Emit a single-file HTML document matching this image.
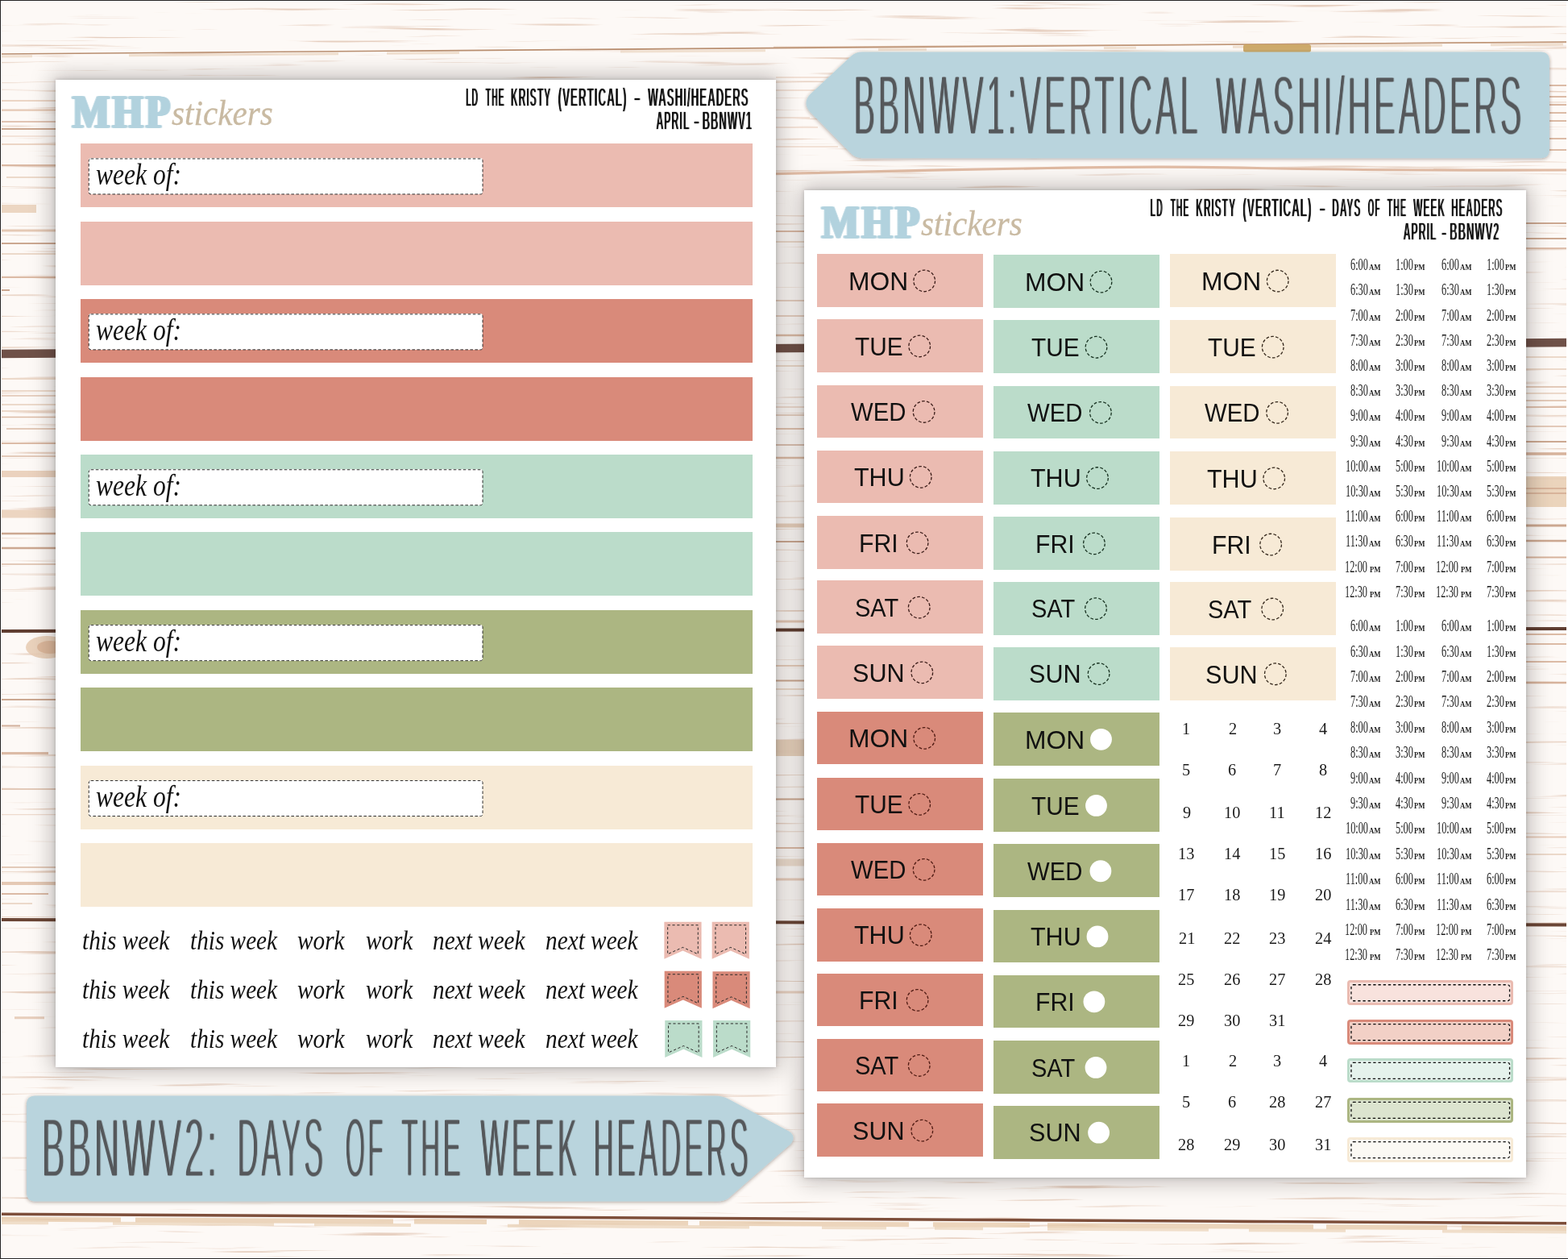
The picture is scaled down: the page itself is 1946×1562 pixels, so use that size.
<!DOCTYPE html>
<html lang="en"><head><meta charset="utf-8"><title>BBNWV1 / BBNWV2 planner sticker sheets</title>
<style>
*{box-sizing:border-box}
html,body{margin:0;padding:0}
body{width:1946px;height:1562px;position:relative;overflow:hidden;background:#fdf9f6;font-family:'Liberation Sans',sans-serif;color:#111}
div,span,svg{position:absolute}
.t{white-space:pre;line-height:1;transform-origin:0 0;display:block}
.sheet{background:#fff;box-shadow:0 0 5px rgba(0,0,0,.2),0 0 26px 4px rgba(10,8,8,.27)}
.day{font-size:31.25px}
.wk{font-family:'Liberation Serif',serif;font-style:italic}
.tm{font-family:'Liberation Serif',serif;font-size:20.5px;transform:scaleX(.6);color:#1a1a1a}
.ap{font-family:'Liberation Serif',serif;font-weight:700;font-size:10.4px;transform:scaleX(.84);color:#222}
.nm{font-family:'Liberation Serif',serif;font-size:21.4px;transform:scaleX(.95);color:#1a1a1a}
</style></head>
<body>
<svg id="wood" width="1946" height="1562" viewBox="0 0 1946 1562" fill="none"><defs><filter id="grain" x="0" y="0" width="100%" height="100%" color-interpolation-filters="sRGB"><feTurbulence type="fractalNoise" baseFrequency="0.005 0.2" numOctaves="3" seed="11" result="n"/><feColorMatrix in="n" type="matrix" values="0 0 0 0 0.80  0 0 0 0 0.62  0 0 0 0 0.50  0 0 0 6 -3.85"/></filter></defs><rect width="100%" height="100%" filter="url(#grain)" opacity=".45"/><path d="M0,67L1946,52" stroke="#b08260" stroke-width="1.6" opacity="0.9"/><path d="M0,70L1946,55" stroke="#e8cfb8" stroke-width="3" opacity=".6" stroke-dasharray="40 120 260 60 90 200 180 140 60 220"/><path d="M0,439L1946,425" stroke="#6f5148" stroke-width="10.5" opacity="1"/><path d="M0,783L1946,780" stroke="#5f3d30" stroke-width="4" opacity="1"/><path d="M0,1141L1946,1147.5" stroke="#6b4636" stroke-width="4" opacity="1"/><path d="M0,1506.3L1946,1517.8" stroke="#7d4e3a" stroke-width="3.4" opacity="1"/><path d="M0,1512.5L1946,1524" stroke="#e4c6a4" stroke-width="6" opacity=".7" stroke-dasharray="150 18 320 26 90 40 210 14 260 30 120 22 330 16"/><path d="M0,1517L1946,1528.5" stroke="#ead3b8" stroke-width="4" opacity=".7" stroke-dasharray="60 80 200 50 120 120 300 90 80 60"/><path d="M960,215.6C1100,213 1180,210 1300,208.5S1460,206.5 1560,208.5S1800,211.5 1946,211" stroke="#dcb297" stroke-width="3.2" opacity=".85"/><path d="M960,58.5L1946,52.5" stroke="#c9a284" stroke-width="1.5" opacity="0.6"/><path d="M0,125L70,125" stroke="#e2c3ae" stroke-width="1.5" opacity="0.9"/><path d="M0,136.7L70,136.7" stroke="#e2c3ae" stroke-width="2.2" opacity="0.9"/><path d="M0,151L70,151" stroke="#d3ab92" stroke-width="1.5" opacity="0.9"/><path d="M0,160L70,160" stroke="#c79e86" stroke-width="2" opacity="0.9"/><path d="M0,169L70,169" stroke="#e2c3ae" stroke-width="1.2" opacity="0.8"/><path d="M0,179L70,179" stroke="#e2c3ae" stroke-width="1.5" opacity="0.9"/><path d="M0,205L70,205" stroke="#d3ab92" stroke-width="2" opacity="0.8"/><path d="M8,220L70,220" stroke="#e2c3ae" stroke-width="1.5" opacity="0.8"/><path d="M0,259L45,259" stroke="#ead2bd" stroke-width="10" opacity="0.9"/><path d="M0,286L70,286" stroke="#e2c3ae" stroke-width="3" opacity="0.9"/><path d="M0,302L70,302" stroke="#c79e86" stroke-width="2" opacity="0.9"/><path d="M0,315L70,315" stroke="#e2c3ae" stroke-width="1.5" opacity="0.8"/><path d="M0,344L70,344" stroke="#d3ab92" stroke-width="2" opacity="0.8"/><path d="M0,360L12,360" stroke="#c79e86" stroke-width="2" opacity="0.9"/><path d="M0,470L70,470" stroke="#e2c3ae" stroke-width="1.5" opacity="0.8"/><path d="M0,485L70,485" stroke="#e2c3ae" stroke-width="1.5" opacity="0.8"/><path d="M0,491L70,491" stroke="#d3ab92" stroke-width="1.5" opacity="0.7"/><path d="M0,502L70,502" stroke="#e2c3ae" stroke-width="1.5" opacity="0.8"/><path d="M0,510L70,510" stroke="#e2c3ae" stroke-width="1.5" opacity="0.8"/><path d="M0,517.5L70,517.5" stroke="#d3ab92" stroke-width="1.5" opacity="0.8"/><path d="M8,532L70,532" stroke="#d3ab92" stroke-width="1.5" opacity="0.8"/><path d="M0,550L70,550" stroke="#d3ab92" stroke-width="2" opacity="0.8"/><path d="M0,566L70,566" stroke="#d3ab92" stroke-width="1.5" opacity="0.8"/><path d="M0,588L70,588" stroke="#e9cdb8" stroke-width="8" opacity="0.9"/><path d="M0,637.5L70,637.5" stroke="#ead0bb" stroke-width="10" opacity="0.9"/><path d="M0,662L70,662" stroke="#c79e86" stroke-width="2.5" opacity="0.9"/><path d="M0,680L70,680" stroke="#c79e86" stroke-width="2.5" opacity="0.9"/><path d="M0,700L70,700" stroke="#d3ab92" stroke-width="1.5" opacity="0.8"/><path d="M0,868L70,868" stroke="#c79e86" stroke-width="2" opacity="0.9"/><path d="M0,900.5L25,900.5" stroke="#c79e86" stroke-width="2" opacity="0.8"/><path d="M0,934.6L60,934.6" stroke="#d3ab92" stroke-width="3" opacity="0.8"/><path d="M0,979L70,979" stroke="#d3ab92" stroke-width="1.5" opacity="0.8"/><path d="M0,1010.7L70,1010.7" stroke="#e2c3ae" stroke-width="1" opacity="0.7"/><path d="M0,1076L70,1076" stroke="#d3ab92" stroke-width="1.5" opacity="0.8"/><path d="M0,1096L70,1096" stroke="#e2c3ae" stroke-width="4" opacity="0.9"/><path d="M0,1109L60,1109" stroke="#d3ab92" stroke-width="2" opacity="0.8"/><path d="M0,1121L40,1121" stroke="#e2c3ae" stroke-width="1.5" opacity="0.8"/><path d="M18,1262.7L55,1262.7" stroke="#e2c3ae" stroke-width="3" opacity="0.8"/><path d="M960,287L1000,287" stroke="#d3ab92" stroke-width="2" opacity="0.8"/><path d="M960,300L1000,300" stroke="#e2c3ae" stroke-width="1.5" opacity="0.8"/><path d="M960,373L1000,373" stroke="#d3ab92" stroke-width="1.5" opacity="0.7"/><path d="M960,392L1000,392" stroke="#d3ab92" stroke-width="1.5" opacity="0.7"/><path d="M960,416L1000,416" stroke="#d3ab92" stroke-width="2.5" opacity="0.8"/><path d="M960,454L1000,454" stroke="#e2c3ae" stroke-width="1.5" opacity="0.8"/><path d="M960,505L1000,505" stroke="#e2c3ae" stroke-width="1.5" opacity="0.7"/><path d="M960,515L1000,515" stroke="#d3ab92" stroke-width="1.5" opacity="0.7"/><path d="M960,532L1000,532" stroke="#d3ab92" stroke-width="2" opacity="0.7"/><path d="M960,552L1000,552" stroke="#c79e86" stroke-width="1.5" opacity="0.8"/><path d="M960,568L1000,568" stroke="#d3ab92" stroke-width="2.5" opacity="0.8"/><path d="M960,652L1000,652" stroke="#e6cbb6" stroke-width="5" opacity="0.9"/><path d="M960,672L1000,672" stroke="#c79e86" stroke-width="2" opacity="0.9"/><path d="M960,771L1000,771" stroke="#e2c3ae" stroke-width="3" opacity="0.9"/><path d="M960,826L1000,826" stroke="#e2c3ae" stroke-width="2" opacity="0.8"/><path d="M960,844.6L1000,844.6" stroke="#c79e86" stroke-width="2" opacity="0.9"/><path d="M960,855L1000,855" stroke="#e2c3ae" stroke-width="1.5" opacity="0.8"/><path d="M960,928L1000,928" stroke="#e5cdb6" stroke-width="20" opacity="0.9"/><path d="M960,991.6L1000,991.6" stroke="#c79e86" stroke-width="2" opacity="0.9"/><path d="M960,1052L1000,1052" stroke="#d3ab92" stroke-width="2" opacity="0.8"/><path d="M960,1070L1000,1070" stroke="#ecdacb" stroke-width="9" opacity="0.9"/><path d="M960,1091L1000,1091" stroke="#e2c3ae" stroke-width="3" opacity="0.8"/><path d="M960,1231L1000,1231" stroke="#e2c3ae" stroke-width="3" opacity="0.7"/><path d="M1890,277L1946,277" stroke="#c79e86" stroke-width="2" opacity="0.9"/><path d="M1890,296L1946,296" stroke="#c79e86" stroke-width="2" opacity="0.9"/><path d="M1890,308L1946,308" stroke="#d3ab92" stroke-width="1.5" opacity="0.9"/><path d="M1890,443L1946,443" stroke="#e2c3ae" stroke-width="1.5" opacity="0.8"/><path d="M1890,458L1946,458" stroke="#e2c3ae" stroke-width="1.5" opacity="0.8"/><path d="M1890,480L1946,480" stroke="#d3ab92" stroke-width="1.5" opacity="0.8"/><path d="M1890,488L1946,488" stroke="#e2c3ae" stroke-width="1.5" opacity="0.8"/><path d="M1890,497L1946,497" stroke="#d3ab92" stroke-width="1.5" opacity="0.8"/><path d="M1890,505L1946,505" stroke="#d3ab92" stroke-width="1.5" opacity="0.8"/><path d="M1890,529L1946,529" stroke="#d3ab92" stroke-width="1.5" opacity="0.8"/><path d="M1890,548L1946,548" stroke="#c79e86" stroke-width="2" opacity="0.9"/><path d="M1890,563L1946,563" stroke="#d3ab92" stroke-width="3.5" opacity="0.9"/><path d="M1890,594L1946,594" stroke="#d3ab92" stroke-width="2" opacity="0.9"/><path d="M1890,610L1946,610" stroke="#ead2b8" stroke-width="38" opacity="0.95"/><path d="M1890,606L1946,606" stroke="#d3ab92" stroke-width="2" opacity="0.8"/><path d="M1890,612L1946,612" stroke="#d3ab92" stroke-width="2" opacity="0.8"/><path d="M1890,652L1946,652" stroke="#c79e86" stroke-width="3" opacity="0.9"/><path d="M1890,671L1946,671" stroke="#c79e86" stroke-width="2.5" opacity="0.9"/><path d="M1890,691.5L1946,691.5" stroke="#d3ab92" stroke-width="2" opacity="0.9"/><path d="M1890,787L1946,787" stroke="#d3ab92" stroke-width="2" opacity="0.8"/><path d="M1890,799L1946,799" stroke="#d3ab92" stroke-width="2" opacity="0.8"/><path d="M1890,821L1946,821" stroke="#d3ab92" stroke-width="2" opacity="0.8"/><path d="M1890,847L1946,847" stroke="#d3ab92" stroke-width="2.5" opacity="0.9"/><path d="M1890,1038.5L1946,1038.5" stroke="#e2c3ae" stroke-width="2" opacity="0.8"/><path d="M1890,1060L1946,1060" stroke="#e2c3ae" stroke-width="1.5" opacity="0.8"/><path d="M963,96L1040,96" stroke="#e2c3ae" stroke-width="1.5" opacity="0.6"/><path d="M963,112L1020,112" stroke="#e2c3ae" stroke-width="1.5" opacity="0.6"/><path d="M963,146L1005,146" stroke="#e2c3ae" stroke-width="1.5" opacity="0.6"/><path d="M963,158L1015,158" stroke="#e2c3ae" stroke-width="1.5" opacity="0.6"/><path d="M963,182L1040,182" stroke="#e2c3ae" stroke-width="1.5" opacity="0.6"/><path d="M1923,106L1946,106" stroke="#d3ab92" stroke-width="2" opacity="0.8"/><path d="M1923,120L1946,120" stroke="#d3ab92" stroke-width="2" opacity="0.8"/><path d="M1923,130L1946,130" stroke="#d3ab92" stroke-width="2" opacity="0.8"/><path d="M1923,140L1946,140" stroke="#d3ab92" stroke-width="2" opacity="0.8"/><path d="M1923,150L1946,150" stroke="#d3ab92" stroke-width="2" opacity="0.8"/><path d="M1923,172L1946,172" stroke="#d3ab92" stroke-width="2" opacity="0.8"/><path d="M1923,186L1946,186" stroke="#d3ab92" stroke-width="2" opacity="0.8"/><ellipse cx="58" cy="803" rx="26" ry="14" fill="#e8cdb6" opacity=".9"/><ellipse cx="62" cy="803" rx="16" ry="8" fill="#d9b294" opacity=".8"/><rect x="1543" y="55" width="84" height="10" rx="3" fill="#c9a35e" opacity=".9"/></svg><svg id="label1" width="1946" height="240" viewBox="0 0 1946 240" style="left:0;top:0"><defs><filter id="tf0" x="-3%" y="-20%" width="106%" height="140%" color-interpolation-filters="sRGB"><feOffset in="SourceGraphic" dy="1" result="e0a"/><feOffset in="SourceGraphic" dy="-1" result="e0b"/><feComposite in="e0a" in2="e0b" operator="in" result="e0"/><feOffset in="SourceGraphic" dy="2" result="e1a"/><feOffset in="SourceGraphic" dy="-2" result="e1b"/><feComposite in="e1a" in2="e1b" operator="in" result="e1"/><feComposite in="e0" in2="e1" operator="arithmetic" k1="0" k2="0.3" k3="0.7" k4="0" result="E"/><feOffset in="E" dx="1" result="o1"/><feMerge result="d0"><feMergeNode in="E"/><feMergeNode in="o1"/></feMerge><feOffset in="E" dx="2" result="o2"/><feMerge result="d1"><feMergeNode in="d0"/><feMergeNode in="o2"/></feMerge><feComposite in="d0" in2="d1" operator="arithmetic" k1="0" k2="0.8" k3="0.2" k4="0"/></filter><filter id="tf1" x="-3%" y="-20%" width="106%" height="140%" color-interpolation-filters="sRGB"><feOffset in="SourceGraphic" dx="0" dy="0" result="e0"/><feOffset in="SourceGraphic" dy="1" result="e1a"/><feOffset in="SourceGraphic" dy="-1" result="e1b"/><feComposite in="e1a" in2="e1b" operator="in" result="e1"/><feComposite in="e0" in2="e1" operator="arithmetic" k1="0" k2="0.1" k3="0.9" k4="0" result="E"/><feMerge result="d0"><feMergeNode in="E"/></feMerge><feOffset in="E" dx="1" result="o1"/><feMerge result="d1"><feMergeNode in="d0"/><feMergeNode in="o1"/></feMerge><feComposite in="d0" in2="d1" operator="arithmetic" k1="0" k2="0.2" k3="0.8" k4="0"/></filter><filter id="ls" x="-5%" y="-20%" width="110%" height="140%"><feDropShadow dx="0" dy="1" stdDeviation="2" flood-color="#3a2a20" flood-opacity=".45"/></filter></defs><path d="M1070,64.4H1912Q1923,64.4 1923,75.4V185.2Q1923,196.2 1912,196.2H1070Q1062,196.2 1056.5,190.8L1004.5,138Q1000,132 1000.6,127Q1001,122 1005,117.5L1056.5,69.5Q1062,64.4 1070,64.4Z" fill="#b9d4dd" filter="url(#ls)"/><g filter="url(#tf0)" font-family="Liberation Sans,sans-serif" font-weight="400" font-size="104.8" fill="#55585b"><text transform="translate(1058.95,167) scale(0.3777,1)" letter-spacing="10.589">BBNWV1:VERTICAL</text><text transform="translate(1508.53,167) scale(0.3785,1)" letter-spacing="10.568">WASHI/HEADERS</text></g></svg><div class="sheet" id="sheet1" style="left:68.75px;top:98.75px;width:894.5px;height:1224.75px;"><span class="t" style="left:21.01px;top:11px;font-family:'Liberation Serif',serif;font-size:57.6px;font-weight:700;transform:scaleX(0.8487);color:#b2d2de;letter-spacing:4px;-webkit-text-stroke:1px #b2d2de;filter:drop-shadow(2px 0 0 #b2d2de) drop-shadow(-2px 0 0 #b2d2de);">MHP</span><span class="t" style="left:143.75px;top:19.7px;font-family:'Liberation Serif',serif;font-size:45px;font-style:italic;transform:scaleX(0.9148);color:#c9baa2;-webkit-text-stroke:.3px #c9baa2;">stickers</span><svg class="hd" width="894.5" height="80" viewBox="0 0 894.5 80" style="left:0;top:0"><g filter="url(#tf1)" font-family="Liberation Sans,sans-serif" font-weight="700" font-size="33.72" fill="#0a0a0a"><text transform="translate(508.64,32.75) scale(0.3149,1)" letter-spacing="3.175">LD</text><text transform="translate(533.23,32.75) scale(0.3118,1)" letter-spacing="3.207">THE</text><text transform="translate(564.44,32.75) scale(0.3599,1)" letter-spacing="2.778">KRISTY</text><text transform="translate(623.18,32.75) scale(0.3969,1)" letter-spacing="2.52">(VERTICAL)</text><text transform="translate(717.37,32.75) scale(0.7475,1)">-</text><text transform="translate(734.84,32.75) scale(0.3947,1)" letter-spacing="2.534">WASHI/HEADERS</text></g><g filter="url(#tf1)" font-family="Liberation Sans,sans-serif" font-weight="700" font-size="32.56" fill="#0a0a0a"><text transform="translate(744.94,62.45) scale(0.3797,1)" letter-spacing="2.634">APRIL</text><text transform="translate(791.62,62.45) scale(0.6532,1)">-</text><text transform="translate(802.18,62.45) scale(0.4,1)" letter-spacing="2.5">BBNWV1</text></g></svg><div class="stripe" style="left:30.75px;top:79.45px;width:834.5px;height:79px;background:#ebbbb1;"></div><div class="wo" style="left:40.75px;top:97.45px;width:489.8px;height:45px;background:#fff;border-radius:3px;"></div><span class="t wk" style="left:50.09px;top:99.55px;transform:scaleX(0.8418);font-size:37.5px;">week of:</span><div class="stripe" style="left:30.75px;top:175.9px;width:834.5px;height:79px;background:#ebbbb1;"></div><div class="stripe" style="left:30.75px;top:272.35px;width:834.5px;height:79px;background:#d98a7a;"></div><div class="wo" style="left:40.75px;top:290.35px;width:489.8px;height:45px;background:#fff;border-radius:3px;"></div><span class="t wk" style="left:50.09px;top:292.45px;transform:scaleX(0.8418);font-size:37.5px;">week of:</span><div class="stripe" style="left:30.75px;top:368.8px;width:834.5px;height:79px;background:#d98a7a;"></div><div class="stripe" style="left:30.75px;top:465.25px;width:834.5px;height:79px;background:#bbdcca;"></div><div class="wo" style="left:40.75px;top:483.25px;width:489.8px;height:45px;background:#fff;border-radius:3px;"></div><span class="t wk" style="left:50.09px;top:485.35px;transform:scaleX(0.8418);font-size:37.5px;">week of:</span><div class="stripe" style="left:30.75px;top:561.7px;width:834.5px;height:79px;background:#bbdcca;"></div><div class="stripe" style="left:30.75px;top:658.15px;width:834.5px;height:79px;background:#acb682;"></div><div class="wo" style="left:40.75px;top:676.15px;width:489.8px;height:45px;background:#fff;border-radius:3px;"></div><span class="t wk" style="left:50.09px;top:678.25px;transform:scaleX(0.8418);font-size:37.5px;">week of:</span><div class="stripe" style="left:30.75px;top:754.6px;width:834.5px;height:79px;background:#acb682;"></div><div class="stripe" style="left:30.75px;top:851.05px;width:834.5px;height:79px;background:#f7ead6;"></div><div class="wo" style="left:40.75px;top:869.05px;width:489.8px;height:45px;background:#fff;border-radius:3px;"></div><span class="t wk" style="left:50.09px;top:871.15px;transform:scaleX(0.8418);font-size:37.5px;">week of:</span><div class="stripe" style="left:30.75px;top:947.5px;width:834.5px;height:79px;background:#f7ead6;"></div><span class="t wk" style="left:33.71px;top:1052.25px;transform:scaleX(0.8891);font-size:33px;">this week</span><span class="t wk" style="left:166.96px;top:1052.25px;transform:scaleX(0.887);font-size:33px;">this week</span><span class="t wk" style="left:300.55px;top:1052.25px;transform:scaleX(0.8867);font-size:33px;">work</span><span class="t wk" style="left:385.05px;top:1052.25px;transform:scaleX(0.8829);font-size:33px;">work</span><span class="t wk" style="left:468.71px;top:1052.25px;transform:scaleX(0.8874);font-size:33px;">next week</span><span class="t wk" style="left:608.71px;top:1052.25px;transform:scaleX(0.8874);font-size:33px;">next week</span><span class="t wk" style="left:33.71px;top:1113px;transform:scaleX(0.8891);font-size:33px;">this week</span><span class="t wk" style="left:166.96px;top:1113px;transform:scaleX(0.887);font-size:33px;">this week</span><span class="t wk" style="left:300.55px;top:1113px;transform:scaleX(0.8867);font-size:33px;">work</span><span class="t wk" style="left:385.05px;top:1113px;transform:scaleX(0.8829);font-size:33px;">work</span><span class="t wk" style="left:468.71px;top:1113px;transform:scaleX(0.8874);font-size:33px;">next week</span><span class="t wk" style="left:608.71px;top:1113px;transform:scaleX(0.8874);font-size:33px;">next week</span><span class="t wk" style="left:33.71px;top:1174.25px;transform:scaleX(0.8891);font-size:33px;">this week</span><span class="t wk" style="left:166.96px;top:1174.25px;transform:scaleX(0.887);font-size:33px;">this week</span><span class="t wk" style="left:300.55px;top:1174.25px;transform:scaleX(0.8867);font-size:33px;">work</span><span class="t wk" style="left:385.05px;top:1174.25px;transform:scaleX(0.8829);font-size:33px;">work</span><span class="t wk" style="left:468.71px;top:1174.25px;transform:scaleX(0.8874);font-size:33px;">next week</span><span class="t wk" style="left:608.71px;top:1174.25px;transform:scaleX(0.8874);font-size:33px;">next week</span><svg width="894.5" height="1224.75" viewBox="0 0 894.5 1224.75" style="left:0;top:0"><rect x="41.25" y="97.95" width="488.8" height="44" rx="2.5" fill="none" stroke="#2e2e2e" stroke-width="1" stroke-dasharray="3.6 2.4"/><rect x="41.25" y="290.85" width="488.8" height="44" rx="2.5" fill="none" stroke="#2e2e2e" stroke-width="1" stroke-dasharray="3.6 2.4"/><rect x="41.25" y="483.75" width="488.8" height="44" rx="2.5" fill="none" stroke="#2e2e2e" stroke-width="1" stroke-dasharray="3.6 2.4"/><rect x="41.25" y="676.65" width="488.8" height="44" rx="2.5" fill="none" stroke="#2e2e2e" stroke-width="1" stroke-dasharray="3.6 2.4"/><rect x="41.25" y="869.55" width="488.8" height="44" rx="2.5" fill="none" stroke="#2e2e2e" stroke-width="1" stroke-dasharray="3.6 2.4"/><path d="M755.35,1044.75h46.2v46l-23.1,-10.3l-23.1,10.3z" fill="#ebbbb1"/><path d="M759.65,1048.75h37.6v36l-18.8,-8.4l-18.8,8.4z" fill="none" stroke="#2a2a2a" stroke-width="1" stroke-dasharray="3.2 2.6"/><path d="M814.65,1044.75h46.2v46l-23.1,-10.3l-23.1,10.3z" fill="#ebbbb1"/><path d="M818.95,1048.75h37.6v36l-18.8,-8.4l-18.8,8.4z" fill="none" stroke="#2a2a2a" stroke-width="1" stroke-dasharray="3.2 2.6"/><path d="M755.65,1105.75h46.2v46l-23.1,-10.3l-23.1,10.3z" fill="#d98a7a"/><path d="M759.95,1109.75h37.6v36l-18.8,-8.4l-18.8,8.4z" fill="none" stroke="#2a2a2a" stroke-width="1" stroke-dasharray="3.2 2.6"/><path d="M815.45,1106.25h46.2v46l-23.1,-10.3l-23.1,10.3z" fill="#d98a7a"/><path d="M819.75,1110.25h37.6v36l-18.8,-8.4l-18.8,8.4z" fill="none" stroke="#2a2a2a" stroke-width="1" stroke-dasharray="3.2 2.6"/><path d="M756.25,1166.95h46.2v46l-23.1,-10.3l-23.1,10.3z" fill="#bbdcca"/><path d="M760.55,1170.95h37.6v36l-18.8,-8.4l-18.8,8.4z" fill="none" stroke="#2a2a2a" stroke-width="1" stroke-dasharray="3.2 2.6"/><path d="M816.05,1166.95h46.2v46l-23.1,-10.3l-23.1,10.3z" fill="#bbdcca"/><path d="M820.35,1170.95h37.6v36l-18.8,-8.4l-18.8,8.4z" fill="none" stroke="#2a2a2a" stroke-width="1" stroke-dasharray="3.2 2.6"/></svg></div><div class="sheet" id="sheet2" style="left:998.25px;top:235.75px;width:895.25px;height:1225px;"><span class="t" style="left:22.01px;top:11px;font-family:'Liberation Serif',serif;font-size:57.6px;font-weight:700;transform:scaleX(0.8487);color:#b2d2de;letter-spacing:4px;-webkit-text-stroke:1px #b2d2de;filter:drop-shadow(2px 0 0 #b2d2de) drop-shadow(-2px 0 0 #b2d2de);">MHP</span><span class="t" style="left:144.75px;top:19.7px;font-family:'Liberation Serif',serif;font-size:45px;font-style:italic;transform:scaleX(0.9148);color:#c9baa2;-webkit-text-stroke:.3px #c9baa2;">stickers</span><svg class="hd" width="895.25" height="80" viewBox="0 0 895.25 80" style="left:0;top:0"><g filter="url(#tf1)" font-family="Liberation Sans,sans-serif" font-weight="700" font-size="33.43" fill="#0a0a0a"><text transform="translate(429.35,32.65) scale(0.3152,1)" letter-spacing="3.172">LD</text><text transform="translate(454.13,32.65) scale(0.3099,1)" letter-spacing="3.227">THE</text><text transform="translate(485.75,32.65) scale(0.3581,1)" letter-spacing="2.793">KRISTY</text><text transform="translate(543.98,32.65) scale(0.4014,1)" letter-spacing="2.491">(VERTICAL)</text><text transform="translate(638.96,32.65) scale(0.6833,1)">-</text><text transform="translate(654.85,32.65) scale(0.3571,1)" letter-spacing="2.801">DAYS</text><text transform="translate(699.24,32.65) scale(0.2966,1)" letter-spacing="3.371">OF</text><text transform="translate(723.23,32.65) scale(0.3191,1)" letter-spacing="3.134">THE</text><text transform="translate(755.84,32.65) scale(0.3572,1)" letter-spacing="2.8">WEEK</text><text transform="translate(802.87,32.65) scale(0.3495,1)" letter-spacing="2.861">HEADERS</text></g><g filter="url(#tf1)" font-family="Liberation Sans,sans-serif" font-weight="700" font-size="31.83" fill="#0a0a0a"><text transform="translate(743.24,62.25) scale(0.3862,1)" letter-spacing="2.589">APRIL</text><text transform="translate(790.4,62.25) scale(0.6063,1)">-</text><text transform="translate(800.78,62.25) scale(0.4081,1)" letter-spacing="2.451">BBNWV2</text></g></svg><div class="daybox" style="left:15.65px;top:79.35px;width:205.9px;height:65.9px;background:#ebbbb1;"></div><span class="t day" style="left:54.64px;top:97.95px;transform:scaleX(1.0163);">MON</span><div class="daybox" style="left:15.65px;top:160.35px;width:205.9px;height:65.9px;background:#ebbbb1;"></div><span class="t day" style="left:62.28px;top:178.95px;transform:scaleX(0.9528);">TUE</span><div class="daybox" style="left:15.65px;top:241.85px;width:205.9px;height:65.9px;background:#ebbbb1;"></div><span class="t day" style="left:57.77px;top:260.45px;transform:scaleX(0.9379);">WED</span><div class="daybox" style="left:15.65px;top:322.75px;width:205.9px;height:65.9px;background:#ebbbb1;"></div><span class="t day" style="left:61.37px;top:341.35px;transform:scaleX(0.9753);">THU</span><div class="daybox" style="left:15.65px;top:404.25px;width:205.9px;height:65.9px;background:#ebbbb1;"></div><span class="t day" style="left:67.67px;top:422.85px;transform:scaleX(0.9668);">FRI</span><div class="daybox" style="left:15.65px;top:484.55px;width:205.9px;height:65.9px;background:#ebbbb1;"></div><span class="t day" style="left:62.43px;top:503.15px;transform:scaleX(0.9294);">SAT</span><div class="daybox" style="left:15.65px;top:565.25px;width:205.9px;height:65.9px;background:#ebbbb1;"></div><span class="t day" style="left:59.26px;top:583.85px;transform:scaleX(0.9788);">SUN</span><div class="daybox" style="left:15.65px;top:646.75px;width:205.9px;height:65.9px;background:#d98a7a;"></div><span class="t day" style="left:54.64px;top:665.35px;transform:scaleX(1.0163);">MON</span><div class="daybox" style="left:15.65px;top:728.75px;width:205.9px;height:65.9px;background:#d98a7a;"></div><span class="t day" style="left:62.28px;top:747.35px;transform:scaleX(0.9528);">TUE</span><div class="daybox" style="left:15.65px;top:809.75px;width:205.9px;height:65.9px;background:#d98a7a;"></div><span class="t day" style="left:57.77px;top:828.35px;transform:scaleX(0.9379);">WED</span><div class="daybox" style="left:15.65px;top:891px;width:205.9px;height:65.9px;background:#d98a7a;"></div><span class="t day" style="left:61.37px;top:909.6px;transform:scaleX(0.9753);">THU</span><div class="daybox" style="left:15.65px;top:971.75px;width:205.9px;height:65.9px;background:#d98a7a;"></div><span class="t day" style="left:67.67px;top:990.35px;transform:scaleX(0.9668);">FRI</span><div class="daybox" style="left:15.65px;top:1052.85px;width:205.9px;height:65.9px;background:#d98a7a;"></div><span class="t day" style="left:62.43px;top:1071.45px;transform:scaleX(0.9294);">SAT</span><div class="daybox" style="left:15.65px;top:1133.55px;width:205.9px;height:65.9px;background:#d98a7a;"></div><span class="t day" style="left:59.26px;top:1152.15px;transform:scaleX(0.9788);">SUN</span><div class="daybox" style="left:234.95px;top:80.5px;width:205.9px;height:65.9px;background:#bbdcca;"></div><span class="t day" style="left:273.94px;top:99.1px;transform:scaleX(1.0163);">MON</span><div class="daybox" style="left:234.95px;top:161.65px;width:205.9px;height:65.9px;background:#bbdcca;"></div><span class="t day" style="left:281.58px;top:180.25px;transform:scaleX(0.9528);">TUE</span><div class="daybox" style="left:234.95px;top:242.75px;width:205.9px;height:65.9px;background:#bbdcca;"></div><span class="t day" style="left:277.07px;top:261.35px;transform:scaleX(0.9379);">WED</span><div class="daybox" style="left:234.95px;top:323.95px;width:205.9px;height:65.9px;background:#bbdcca;"></div><span class="t day" style="left:280.67px;top:342.55px;transform:scaleX(0.9753);">THU</span><div class="daybox" style="left:234.95px;top:405.3px;width:205.9px;height:65.9px;background:#bbdcca;"></div><span class="t day" style="left:286.97px;top:423.9px;transform:scaleX(0.9668);">FRI</span><div class="daybox" style="left:234.95px;top:486.05px;width:205.9px;height:65.9px;background:#bbdcca;"></div><span class="t day" style="left:281.73px;top:504.65px;transform:scaleX(0.9294);">SAT</span><div class="daybox" style="left:234.95px;top:566.95px;width:205.9px;height:65.9px;background:#bbdcca;"></div><span class="t day" style="left:278.56px;top:585.55px;transform:scaleX(0.9788);">SUN</span><div class="daybox" style="left:234.95px;top:648.25px;width:205.9px;height:65.9px;background:#acb682;"></div><span class="t day" style="left:273.94px;top:666.85px;transform:scaleX(1.0163);">MON</span><div class="daybox" style="left:234.95px;top:730.35px;width:205.9px;height:65.9px;background:#acb682;"></div><span class="t day" style="left:281.58px;top:748.95px;transform:scaleX(0.9528);">TUE</span><div class="daybox" style="left:234.95px;top:811.65px;width:205.9px;height:65.9px;background:#acb682;"></div><span class="t day" style="left:277.07px;top:830.25px;transform:scaleX(0.9379);">WED</span><div class="daybox" style="left:234.95px;top:892.85px;width:205.9px;height:65.9px;background:#acb682;"></div><span class="t day" style="left:280.67px;top:911.45px;transform:scaleX(0.9753);">THU</span><div class="daybox" style="left:234.95px;top:973.75px;width:205.9px;height:65.9px;background:#acb682;"></div><span class="t day" style="left:286.97px;top:992.35px;transform:scaleX(0.9668);">FRI</span><div class="daybox" style="left:234.95px;top:1055.35px;width:205.9px;height:65.9px;background:#acb682;"></div><span class="t day" style="left:281.73px;top:1073.95px;transform:scaleX(0.9294);">SAT</span><div class="daybox" style="left:234.95px;top:1136.05px;width:205.9px;height:65.9px;background:#acb682;"></div><span class="t day" style="left:278.56px;top:1154.65px;transform:scaleX(0.9788);">SUN</span><div class="daybox" style="left:454.15px;top:79.45px;width:205.9px;height:65.9px;background:#f7ead6;"></div><span class="t day" style="left:493.14px;top:98.05px;transform:scaleX(1.0163);">MON</span><div class="daybox" style="left:454.15px;top:161.55px;width:205.9px;height:65.9px;background:#f7ead6;"></div><span class="t day" style="left:500.78px;top:180.15px;transform:scaleX(0.9528);">TUE</span><div class="daybox" style="left:454.15px;top:242.75px;width:205.9px;height:65.9px;background:#f7ead6;"></div><span class="t day" style="left:496.27px;top:261.35px;transform:scaleX(0.9379);">WED</span><div class="daybox" style="left:454.15px;top:324.35px;width:205.9px;height:65.9px;background:#f7ead6;"></div><span class="t day" style="left:499.87px;top:342.95px;transform:scaleX(0.9753);">THU</span><div class="daybox" style="left:454.15px;top:406.45px;width:205.9px;height:65.9px;background:#f7ead6;"></div><span class="t day" style="left:506.17px;top:425.05px;transform:scaleX(0.9668);">FRI</span><div class="daybox" style="left:454.15px;top:486.45px;width:205.9px;height:65.9px;background:#f7ead6;"></div><span class="t day" style="left:500.93px;top:505.05px;transform:scaleX(0.9294);">SAT</span><div class="daybox" style="left:454.15px;top:567.15px;width:205.9px;height:65.9px;background:#f7ead6;"></div><span class="t day" style="left:497.76px;top:585.75px;transform:scaleX(0.9788);">SUN</span><span class="t tm" style="left:677.63px;top:82.55px;">6:00</span><span class="t ap" style="left:700.75px;top:91.55px;">AM</span><span class="t tm" style="left:733.87px;top:82.55px;">1:00</span><span class="t ap" style="left:756.92px;top:91.55px;">PM</span><span class="t tm" style="left:790.63px;top:82.55px;">6:00</span><span class="t ap" style="left:813.75px;top:91.55px;">AM</span><span class="t tm" style="left:846.97px;top:82.55px;">1:00</span><span class="t ap" style="left:870.02px;top:91.55px;">PM</span><span class="t tm" style="left:677.63px;top:113.74px;">6:30</span><span class="t ap" style="left:700.75px;top:122.74px;">AM</span><span class="t tm" style="left:733.87px;top:113.74px;">1:30</span><span class="t ap" style="left:756.92px;top:122.74px;">PM</span><span class="t tm" style="left:790.63px;top:113.74px;">6:30</span><span class="t ap" style="left:813.75px;top:122.74px;">AM</span><span class="t tm" style="left:846.97px;top:113.74px;">1:30</span><span class="t ap" style="left:870.02px;top:122.74px;">PM</span><span class="t tm" style="left:677.63px;top:144.93px;">7:00</span><span class="t ap" style="left:700.75px;top:153.93px;">AM</span><span class="t tm" style="left:733.87px;top:144.93px;">2:00</span><span class="t ap" style="left:756.92px;top:153.93px;">PM</span><span class="t tm" style="left:790.63px;top:144.93px;">7:00</span><span class="t ap" style="left:813.75px;top:153.93px;">AM</span><span class="t tm" style="left:846.97px;top:144.93px;">2:00</span><span class="t ap" style="left:870.02px;top:153.93px;">PM</span><span class="t tm" style="left:677.63px;top:176.12px;">7:30</span><span class="t ap" style="left:700.75px;top:185.12px;">AM</span><span class="t tm" style="left:733.87px;top:176.12px;">2:30</span><span class="t ap" style="left:756.92px;top:185.12px;">PM</span><span class="t tm" style="left:790.63px;top:176.12px;">7:30</span><span class="t ap" style="left:813.75px;top:185.12px;">AM</span><span class="t tm" style="left:846.97px;top:176.12px;">2:30</span><span class="t ap" style="left:870.02px;top:185.12px;">PM</span><span class="t tm" style="left:677.63px;top:207.31px;">8:00</span><span class="t ap" style="left:700.75px;top:216.31px;">AM</span><span class="t tm" style="left:733.87px;top:207.31px;">3:00</span><span class="t ap" style="left:756.92px;top:216.31px;">PM</span><span class="t tm" style="left:790.63px;top:207.31px;">8:00</span><span class="t ap" style="left:813.75px;top:216.31px;">AM</span><span class="t tm" style="left:846.97px;top:207.31px;">3:00</span><span class="t ap" style="left:870.02px;top:216.31px;">PM</span><span class="t tm" style="left:677.63px;top:238.5px;">8:30</span><span class="t ap" style="left:700.75px;top:247.5px;">AM</span><span class="t tm" style="left:733.87px;top:238.5px;">3:30</span><span class="t ap" style="left:756.92px;top:247.5px;">PM</span><span class="t tm" style="left:790.63px;top:238.5px;">8:30</span><span class="t ap" style="left:813.75px;top:247.5px;">AM</span><span class="t tm" style="left:846.97px;top:238.5px;">3:30</span><span class="t ap" style="left:870.02px;top:247.5px;">PM</span><span class="t tm" style="left:677.63px;top:269.69px;">9:00</span><span class="t ap" style="left:700.75px;top:278.69px;">AM</span><span class="t tm" style="left:733.87px;top:269.69px;">4:00</span><span class="t ap" style="left:756.92px;top:278.69px;">PM</span><span class="t tm" style="left:790.63px;top:269.69px;">9:00</span><span class="t ap" style="left:813.75px;top:278.69px;">AM</span><span class="t tm" style="left:846.97px;top:269.69px;">4:00</span><span class="t ap" style="left:870.02px;top:278.69px;">PM</span><span class="t tm" style="left:677.63px;top:300.88px;">9:30</span><span class="t ap" style="left:700.75px;top:309.88px;">AM</span><span class="t tm" style="left:733.87px;top:300.88px;">4:30</span><span class="t ap" style="left:756.92px;top:309.88px;">PM</span><span class="t tm" style="left:790.63px;top:300.88px;">9:30</span><span class="t ap" style="left:813.75px;top:309.88px;">AM</span><span class="t tm" style="left:846.97px;top:300.88px;">4:30</span><span class="t ap" style="left:870.02px;top:309.88px;">PM</span><span class="t tm" style="left:671.48px;top:332.07px;">10:00</span><span class="t ap" style="left:700.75px;top:341.07px;">AM</span><span class="t tm" style="left:733.87px;top:332.07px;">5:00</span><span class="t ap" style="left:756.92px;top:341.07px;">PM</span><span class="t tm" style="left:784.48px;top:332.07px;">10:00</span><span class="t ap" style="left:813.75px;top:341.07px;">AM</span><span class="t tm" style="left:846.97px;top:332.07px;">5:00</span><span class="t ap" style="left:870.02px;top:341.07px;">PM</span><span class="t tm" style="left:671.48px;top:363.26px;">10:30</span><span class="t ap" style="left:700.75px;top:372.26px;">AM</span><span class="t tm" style="left:733.87px;top:363.26px;">5:30</span><span class="t ap" style="left:756.92px;top:372.26px;">PM</span><span class="t tm" style="left:784.48px;top:363.26px;">10:30</span><span class="t ap" style="left:813.75px;top:372.26px;">AM</span><span class="t tm" style="left:846.97px;top:363.26px;">5:30</span><span class="t ap" style="left:870.02px;top:372.26px;">PM</span><span class="t tm" style="left:671.48px;top:394.45px;">11:00</span><span class="t ap" style="left:700.75px;top:403.45px;">AM</span><span class="t tm" style="left:733.87px;top:394.45px;">6:00</span><span class="t ap" style="left:756.92px;top:403.45px;">PM</span><span class="t tm" style="left:784.48px;top:394.45px;">11:00</span><span class="t ap" style="left:813.75px;top:403.45px;">AM</span><span class="t tm" style="left:846.97px;top:394.45px;">6:00</span><span class="t ap" style="left:870.02px;top:403.45px;">PM</span><span class="t tm" style="left:671.48px;top:425.64px;">11:30</span><span class="t ap" style="left:700.75px;top:434.64px;">AM</span><span class="t tm" style="left:733.87px;top:425.64px;">6:30</span><span class="t ap" style="left:756.92px;top:434.64px;">PM</span><span class="t tm" style="left:784.48px;top:425.64px;">11:30</span><span class="t ap" style="left:813.75px;top:434.64px;">AM</span><span class="t tm" style="left:846.97px;top:425.64px;">6:30</span><span class="t ap" style="left:870.02px;top:434.64px;">PM</span><span class="t tm" style="left:670.72px;top:456.83px;">12:00</span><span class="t ap" style="left:701.72px;top:465.83px;">PM</span><span class="t tm" style="left:733.87px;top:456.83px;">7:00</span><span class="t ap" style="left:756.92px;top:465.83px;">PM</span><span class="t tm" style="left:783.72px;top:456.83px;">12:00</span><span class="t ap" style="left:814.72px;top:465.83px;">PM</span><span class="t tm" style="left:846.97px;top:456.83px;">7:00</span><span class="t ap" style="left:870.02px;top:465.83px;">PM</span><span class="t tm" style="left:670.72px;top:488.02px;">12:30</span><span class="t ap" style="left:701.72px;top:497.02px;">PM</span><span class="t tm" style="left:733.87px;top:488.02px;">7:30</span><span class="t ap" style="left:756.92px;top:497.02px;">PM</span><span class="t tm" style="left:783.72px;top:488.02px;">12:30</span><span class="t ap" style="left:814.72px;top:497.02px;">PM</span><span class="t tm" style="left:846.97px;top:488.02px;">7:30</span><span class="t ap" style="left:870.02px;top:497.02px;">PM</span><span class="t tm" style="left:677.63px;top:530.35px;">6:00</span><span class="t ap" style="left:700.75px;top:539.35px;">AM</span><span class="t tm" style="left:733.87px;top:530.35px;">1:00</span><span class="t ap" style="left:756.92px;top:539.35px;">PM</span><span class="t tm" style="left:790.63px;top:530.35px;">6:00</span><span class="t ap" style="left:813.75px;top:539.35px;">AM</span><span class="t tm" style="left:846.97px;top:530.35px;">1:00</span><span class="t ap" style="left:870.02px;top:539.35px;">PM</span><span class="t tm" style="left:677.63px;top:561.75px;">6:30</span><span class="t ap" style="left:700.75px;top:570.75px;">AM</span><span class="t tm" style="left:733.87px;top:561.75px;">1:30</span><span class="t ap" style="left:756.92px;top:570.75px;">PM</span><span class="t tm" style="left:790.63px;top:561.75px;">6:30</span><span class="t ap" style="left:813.75px;top:570.75px;">AM</span><span class="t tm" style="left:846.97px;top:561.75px;">1:30</span><span class="t ap" style="left:870.02px;top:570.75px;">PM</span><span class="t tm" style="left:677.63px;top:593.15px;">7:00</span><span class="t ap" style="left:700.75px;top:602.15px;">AM</span><span class="t tm" style="left:733.87px;top:593.15px;">2:00</span><span class="t ap" style="left:756.92px;top:602.15px;">PM</span><span class="t tm" style="left:790.63px;top:593.15px;">7:00</span><span class="t ap" style="left:813.75px;top:602.15px;">AM</span><span class="t tm" style="left:846.97px;top:593.15px;">2:00</span><span class="t ap" style="left:870.02px;top:602.15px;">PM</span><span class="t tm" style="left:677.63px;top:624.55px;">7:30</span><span class="t ap" style="left:700.75px;top:633.55px;">AM</span><span class="t tm" style="left:733.87px;top:624.55px;">2:30</span><span class="t ap" style="left:756.92px;top:633.55px;">PM</span><span class="t tm" style="left:790.63px;top:624.55px;">7:30</span><span class="t ap" style="left:813.75px;top:633.55px;">AM</span><span class="t tm" style="left:846.97px;top:624.55px;">2:30</span><span class="t ap" style="left:870.02px;top:633.55px;">PM</span><span class="t tm" style="left:677.63px;top:655.95px;">8:00</span><span class="t ap" style="left:700.75px;top:664.95px;">AM</span><span class="t tm" style="left:733.87px;top:655.95px;">3:00</span><span class="t ap" style="left:756.92px;top:664.95px;">PM</span><span class="t tm" style="left:790.63px;top:655.95px;">8:00</span><span class="t ap" style="left:813.75px;top:664.95px;">AM</span><span class="t tm" style="left:846.97px;top:655.95px;">3:00</span><span class="t ap" style="left:870.02px;top:664.95px;">PM</span><span class="t tm" style="left:677.63px;top:687.35px;">8:30</span><span class="t ap" style="left:700.75px;top:696.35px;">AM</span><span class="t tm" style="left:733.87px;top:687.35px;">3:30</span><span class="t ap" style="left:756.92px;top:696.35px;">PM</span><span class="t tm" style="left:790.63px;top:687.35px;">8:30</span><span class="t ap" style="left:813.75px;top:696.35px;">AM</span><span class="t tm" style="left:846.97px;top:687.35px;">3:30</span><span class="t ap" style="left:870.02px;top:696.35px;">PM</span><span class="t tm" style="left:677.63px;top:718.75px;">9:00</span><span class="t ap" style="left:700.75px;top:727.75px;">AM</span><span class="t tm" style="left:733.87px;top:718.75px;">4:00</span><span class="t ap" style="left:756.92px;top:727.75px;">PM</span><span class="t tm" style="left:790.63px;top:718.75px;">9:00</span><span class="t ap" style="left:813.75px;top:727.75px;">AM</span><span class="t tm" style="left:846.97px;top:718.75px;">4:00</span><span class="t ap" style="left:870.02px;top:727.75px;">PM</span><span class="t tm" style="left:677.63px;top:750.15px;">9:30</span><span class="t ap" style="left:700.75px;top:759.15px;">AM</span><span class="t tm" style="left:733.87px;top:750.15px;">4:30</span><span class="t ap" style="left:756.92px;top:759.15px;">PM</span><span class="t tm" style="left:790.63px;top:750.15px;">9:30</span><span class="t ap" style="left:813.75px;top:759.15px;">AM</span><span class="t tm" style="left:846.97px;top:750.15px;">4:30</span><span class="t ap" style="left:870.02px;top:759.15px;">PM</span><span class="t tm" style="left:671.48px;top:781.55px;">10:00</span><span class="t ap" style="left:700.75px;top:790.55px;">AM</span><span class="t tm" style="left:733.87px;top:781.55px;">5:00</span><span class="t ap" style="left:756.92px;top:790.55px;">PM</span><span class="t tm" style="left:784.48px;top:781.55px;">10:00</span><span class="t ap" style="left:813.75px;top:790.55px;">AM</span><span class="t tm" style="left:846.97px;top:781.55px;">5:00</span><span class="t ap" style="left:870.02px;top:790.55px;">PM</span><span class="t tm" style="left:671.48px;top:812.95px;">10:30</span><span class="t ap" style="left:700.75px;top:821.95px;">AM</span><span class="t tm" style="left:733.87px;top:812.95px;">5:30</span><span class="t ap" style="left:756.92px;top:821.95px;">PM</span><span class="t tm" style="left:784.48px;top:812.95px;">10:30</span><span class="t ap" style="left:813.75px;top:821.95px;">AM</span><span class="t tm" style="left:846.97px;top:812.95px;">5:30</span><span class="t ap" style="left:870.02px;top:821.95px;">PM</span><span class="t tm" style="left:671.48px;top:844.35px;">11:00</span><span class="t ap" style="left:700.75px;top:853.35px;">AM</span><span class="t tm" style="left:733.87px;top:844.35px;">6:00</span><span class="t ap" style="left:756.92px;top:853.35px;">PM</span><span class="t tm" style="left:784.48px;top:844.35px;">11:00</span><span class="t ap" style="left:813.75px;top:853.35px;">AM</span><span class="t tm" style="left:846.97px;top:844.35px;">6:00</span><span class="t ap" style="left:870.02px;top:853.35px;">PM</span><span class="t tm" style="left:671.48px;top:875.75px;">11:30</span><span class="t ap" style="left:700.75px;top:884.75px;">AM</span><span class="t tm" style="left:733.87px;top:875.75px;">6:30</span><span class="t ap" style="left:756.92px;top:884.75px;">PM</span><span class="t tm" style="left:784.48px;top:875.75px;">11:30</span><span class="t ap" style="left:813.75px;top:884.75px;">AM</span><span class="t tm" style="left:846.97px;top:875.75px;">6:30</span><span class="t ap" style="left:870.02px;top:884.75px;">PM</span><span class="t tm" style="left:670.72px;top:907.15px;">12:00</span><span class="t ap" style="left:701.72px;top:916.15px;">PM</span><span class="t tm" style="left:733.87px;top:907.15px;">7:00</span><span class="t ap" style="left:756.92px;top:916.15px;">PM</span><span class="t tm" style="left:783.72px;top:907.15px;">12:00</span><span class="t ap" style="left:814.72px;top:916.15px;">PM</span><span class="t tm" style="left:846.97px;top:907.15px;">7:00</span><span class="t ap" style="left:870.02px;top:916.15px;">PM</span><span class="t tm" style="left:670.72px;top:938.55px;">12:30</span><span class="t ap" style="left:701.72px;top:947.55px;">PM</span><span class="t tm" style="left:733.87px;top:938.55px;">7:30</span><span class="t ap" style="left:756.92px;top:947.55px;">PM</span><span class="t tm" style="left:783.72px;top:938.55px;">12:30</span><span class="t ap" style="left:814.72px;top:947.55px;">PM</span><span class="t tm" style="left:846.97px;top:938.55px;">7:30</span><span class="t ap" style="left:870.02px;top:947.55px;">PM</span><span class="t nm" style="left:468.88px;top:658.15px;">1</span><span class="t nm" style="left:526.28px;top:658.15px;">2</span><span class="t nm" style="left:582.08px;top:658.15px;">3</span><span class="t nm" style="left:639.13px;top:658.15px;">4</span><span class="t nm" style="left:468.97px;top:709.45px;">5</span><span class="t nm" style="left:526.03px;top:709.45px;">6</span><span class="t nm" style="left:581.79px;top:709.45px;">7</span><span class="t nm" style="left:639.17px;top:709.45px;">8</span><span class="t nm" style="left:469.26px;top:761.95px;">9</span><span class="t nm" style="left:520.58px;top:761.95px;">10</span><span class="t nm" style="left:576.8px;top:761.95px;">11</span><span class="t nm" style="left:633.75px;top:761.95px;">12</span><span class="t nm" style="left:463.59px;top:813.25px;">13</span><span class="t nm" style="left:520.35px;top:813.25px;">14</span><span class="t nm" style="left:576.59px;top:813.25px;">15</span><span class="t nm" style="left:633.49px;top:813.25px;">16</span><span class="t nm" style="left:463.48px;top:864.55px;">17</span><span class="t nm" style="left:520.58px;top:864.55px;">18</span><span class="t nm" style="left:576.61px;top:864.55px;">19</span><span class="t nm" style="left:634.03px;top:864.55px;">20</span><span class="t nm" style="left:464.25px;top:918.25px;">21</span><span class="t nm" style="left:521.2px;top:918.25px;">22</span><span class="t nm" style="left:577.04px;top:918.25px;">23</span><span class="t nm" style="left:633.8px;top:918.25px;">24</span><span class="t nm" style="left:464.04px;top:969.05px;">25</span><span class="t nm" style="left:520.94px;top:969.05px;">26</span><span class="t nm" style="left:576.93px;top:969.05px;">27</span><span class="t nm" style="left:634.03px;top:969.05px;">28</span><span class="t nm" style="left:464.06px;top:1020.25px;">29</span><span class="t nm" style="left:520.99px;top:1020.25px;">30</span><span class="t nm" style="left:577.21px;top:1020.25px;">31</span><span class="t nm" style="left:468.88px;top:1069.85px;">1</span><span class="t nm" style="left:526.28px;top:1069.85px;">2</span><span class="t nm" style="left:582.08px;top:1069.85px;">3</span><span class="t nm" style="left:639.13px;top:1069.85px;">4</span><span class="t nm" style="left:468.97px;top:1121.55px;">5</span><span class="t nm" style="left:526.03px;top:1121.55px;">6</span><span class="t nm" style="left:577.03px;top:1121.55px;">28</span><span class="t nm" style="left:633.93px;top:1121.55px;">27</span><span class="t nm" style="left:464.03px;top:1174.55px;">28</span><span class="t nm" style="left:521.06px;top:1174.55px;">29</span><span class="t nm" style="left:576.99px;top:1174.55px;">30</span><span class="t nm" style="left:634.21px;top:1174.55px;">31</span><div class="db" style="left:673.75px;top:980.55px;width:206.3px;height:30.5px;background:#f8e2dd;border:3.5px solid #eabbb1;border-radius:4px;"></div><div class="db" style="left:673.75px;top:1029.35px;width:206.3px;height:30.5px;background:#f2d0c6;border:3.5px solid #d98a7a;border-radius:4px;"></div><div class="db" style="left:673.75px;top:1077.15px;width:206.3px;height:30.5px;background:#e5f2ec;border:3.5px solid #bbdcca;border-radius:4px;"></div><div class="db" style="left:673.75px;top:1126.25px;width:206.3px;height:30.5px;background:#dce4cf;border:3.5px solid #acb682;border-radius:4px;"></div><div class="db" style="left:673.75px;top:1175.45px;width:206.3px;height:30.5px;background:#fbf9f4;border:3.5px solid #f7ead6;border-radius:4px;"></div><svg width="895.25" height="1225" viewBox="0 0 895.25 1225" style="left:0;top:0"><circle cx="149.2" cy="112.45" r="13.3" fill="none" stroke="#3a1c18" stroke-width="1.3" stroke-dasharray="3.7 2.27"/><circle cx="143.2" cy="193.45" r="13.3" fill="none" stroke="#3a1c18" stroke-width="1.3" stroke-dasharray="3.7 2.27"/><circle cx="148.6" cy="274.95" r="13.3" fill="none" stroke="#3a1c18" stroke-width="1.3" stroke-dasharray="3.7 2.27"/><circle cx="144.7" cy="355.85" r="13.3" fill="none" stroke="#3a1c18" stroke-width="1.3" stroke-dasharray="3.7 2.27"/><circle cx="140.6" cy="437.35" r="13.3" fill="none" stroke="#3a1c18" stroke-width="1.3" stroke-dasharray="3.7 2.27"/><circle cx="142.7" cy="517.65" r="13.3" fill="none" stroke="#3a1c18" stroke-width="1.3" stroke-dasharray="3.7 2.27"/><circle cx="146.3" cy="598.35" r="13.3" fill="none" stroke="#3a1c18" stroke-width="1.3" stroke-dasharray="3.7 2.27"/><circle cx="149.2" cy="679.85" r="13.3" fill="none" stroke="#4e1a12" stroke-width="1.3" stroke-dasharray="3.7 2.27"/><circle cx="143.2" cy="761.85" r="13.3" fill="none" stroke="#4e1a12" stroke-width="1.3" stroke-dasharray="3.7 2.27"/><circle cx="148.6" cy="842.85" r="13.3" fill="none" stroke="#4e1a12" stroke-width="1.3" stroke-dasharray="3.7 2.27"/><circle cx="144.7" cy="924.1" r="13.3" fill="none" stroke="#4e1a12" stroke-width="1.3" stroke-dasharray="3.7 2.27"/><circle cx="140.6" cy="1004.85" r="13.3" fill="none" stroke="#4e1a12" stroke-width="1.3" stroke-dasharray="3.7 2.27"/><circle cx="142.7" cy="1085.95" r="13.3" fill="none" stroke="#4e1a12" stroke-width="1.3" stroke-dasharray="3.7 2.27"/><circle cx="146.3" cy="1166.65" r="13.3" fill="none" stroke="#4e1a12" stroke-width="1.3" stroke-dasharray="3.7 2.27"/><circle cx="368.5" cy="113.6" r="13.3" fill="none" stroke="#16301f" stroke-width="1.3" stroke-dasharray="3.7 2.27"/><circle cx="362.5" cy="194.75" r="13.3" fill="none" stroke="#16301f" stroke-width="1.3" stroke-dasharray="3.7 2.27"/><circle cx="367.9" cy="275.85" r="13.3" fill="none" stroke="#16301f" stroke-width="1.3" stroke-dasharray="3.7 2.27"/><circle cx="364" cy="357.05" r="13.3" fill="none" stroke="#16301f" stroke-width="1.3" stroke-dasharray="3.7 2.27"/><circle cx="359.9" cy="438.4" r="13.3" fill="none" stroke="#16301f" stroke-width="1.3" stroke-dasharray="3.7 2.27"/><circle cx="362" cy="519.15" r="13.3" fill="none" stroke="#16301f" stroke-width="1.3" stroke-dasharray="3.7 2.27"/><circle cx="365.6" cy="600.05" r="13.3" fill="none" stroke="#16301f" stroke-width="1.3" stroke-dasharray="3.7 2.27"/><circle cx="368.5" cy="681.35" r="13.4" fill="#fff"/><circle cx="362.5" cy="763.45" r="13.4" fill="#fff"/><circle cx="367.9" cy="844.75" r="13.4" fill="#fff"/><circle cx="364" cy="925.95" r="13.4" fill="#fff"/><circle cx="359.9" cy="1006.85" r="13.4" fill="#fff"/><circle cx="362" cy="1088.45" r="13.4" fill="#fff"/><circle cx="365.6" cy="1169.15" r="13.4" fill="#fff"/><circle cx="587.7" cy="112.55" r="13.3" fill="none" stroke="#33261a" stroke-width="1.3" stroke-dasharray="3.7 2.27"/><circle cx="581.7" cy="194.65" r="13.3" fill="none" stroke="#33261a" stroke-width="1.3" stroke-dasharray="3.7 2.27"/><circle cx="587.1" cy="275.85" r="13.3" fill="none" stroke="#33261a" stroke-width="1.3" stroke-dasharray="3.7 2.27"/><circle cx="583.2" cy="357.45" r="13.3" fill="none" stroke="#33261a" stroke-width="1.3" stroke-dasharray="3.7 2.27"/><circle cx="579.1" cy="439.55" r="13.3" fill="none" stroke="#33261a" stroke-width="1.3" stroke-dasharray="3.7 2.27"/><circle cx="581.2" cy="519.55" r="13.3" fill="none" stroke="#33261a" stroke-width="1.3" stroke-dasharray="3.7 2.27"/><circle cx="584.8" cy="600.25" r="13.3" fill="none" stroke="#33261a" stroke-width="1.3" stroke-dasharray="3.7 2.27"/><rect x="678.95" y="985.75" width="196.6" height="20" rx="2.5" fill="none" stroke="#0c0c0c" stroke-width="1.3" stroke-dasharray="3.3 2.9"/><rect x="678.95" y="1034.55" width="196.6" height="20" rx="2.5" fill="none" stroke="#0c0c0c" stroke-width="1.3" stroke-dasharray="3.3 2.9"/><rect x="678.95" y="1082.35" width="196.6" height="20" rx="2.5" fill="none" stroke="#0c0c0c" stroke-width="1.3" stroke-dasharray="3.3 2.9"/><rect x="678.95" y="1131.45" width="196.6" height="20" rx="2.5" fill="none" stroke="#0c0c0c" stroke-width="1.3" stroke-dasharray="3.3 2.9"/><rect x="678.95" y="1180.65" width="196.6" height="20" rx="2.5" fill="none" stroke="#0c0c0c" stroke-width="1.3" stroke-dasharray="3.3 2.9"/></svg></div><svg id="label2" width="1000" height="200" viewBox="0 0 1000 200" style="left:0;top:1330px"><path d="M44,29.4H888Q896,29.4 903,33L979,73.5Q984.5,77 984.5,81.5Q984.5,86 980.5,90L903.5,157Q898,160.5 890,160.5H44Q33,160.5 33,149.5V40.4Q33,29.4 44,29.4Z" fill="#b9d4dd" filter="url(#ls)"/><g filter="url(#tf0)" font-family="Liberation Sans,sans-serif" font-weight="400" font-size="104.51" fill="#55585b"><text transform="translate(51.18,130.2) scale(0.4108,1)" letter-spacing="9.737">BBNWV2:</text><text transform="translate(294.28,130.2) scale(0.3407,1)" letter-spacing="11.741">DAYS</text><text transform="translate(428.14,130.2) scale(0.2949,1)" letter-spacing="13.565">OF</text><text transform="translate(497.66,130.2) scale(0.3136,1)" letter-spacing="12.756">THE</text><text transform="translate(595.64,130.2) scale(0.3508,1)" letter-spacing="11.401">WEEK</text><text transform="translate(735.94,130.2) scale(0.3332,1)" letter-spacing="12.004">HEADERS</text></g></svg><div id="frame" style="left:0;top:0;width:1946px;height:1562px;border-top:1px solid #262424;border-left:1px solid #262424;border-bottom:1px solid #262424;box-shadow:inset 1px 1px 0 #fff,inset -2px -1px 0 #fff;pointer-events:none"></div>
</body></html>
